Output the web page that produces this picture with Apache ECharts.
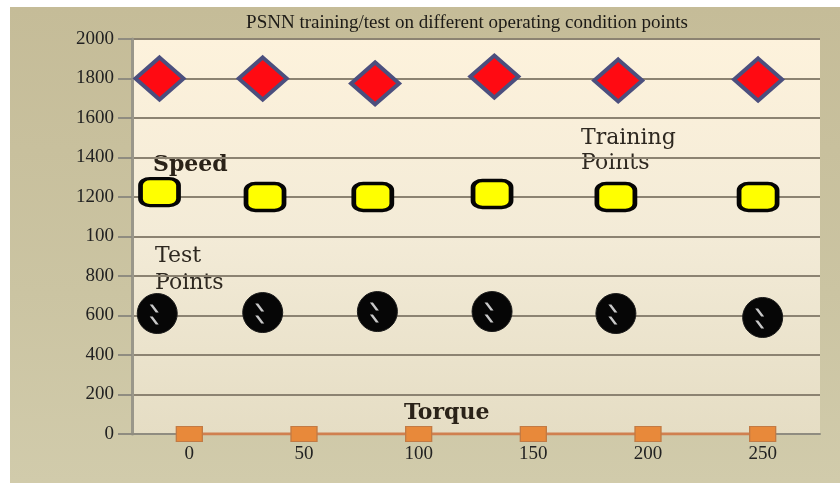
<!DOCTYPE html>
<html>
<head>
<meta charset="utf-8">
<script src="https://cdn.jsdelivr.net/npm/echarts@6/dist/echarts.min.js"></script>
<style>
  html, body { margin: 0; padding: 0; background: #fff; }
  #chart {
    width: 840px; height: 483px;
    background: #fff linear-gradient(180deg, #c5bc98 0%, #cbc4a2 60%, #d1cbab 100%) no-repeat 10px 7px / 830px 476px;
  }
</style>
</head>
<body>
<div id="chart"></div>
<script>
// category labels along the bottom axis
const torqueCategories = ['0', '50', '100', '150', '200', '250'];
const torqueValues = [0, 0, 0, 0, 0, 0];

// y tick labels as printed in the figure (the 1000 tick reads "100")
const yTickLabels = ['0', '200', '400', '600', '800', '100', '1200', '1400', '1600', '1800', '2000'];

// operating points, x on the hidden value axis
const speedHighX = [-13, 32, 81, 133, 187, 248];
const speedHighY = [1800, 1800, 1775, 1810, 1790, 1795];
const speedMidX = [-13, 33, 80, 132, 186, 248];
const speedMidY = [1225, 1200, 1200, 1215, 1200, 1200];
const speedLowX = [-14, 32, 82, 132, 186, 250];
const speedLowY = [610, 615, 620, 620, 610, 590];

const zip = (xs, ys) => xs.map((x, i) => [x, ys[i]]);

const serif = '"Liberation Serif", "Times New Roman", serif';
const slab = '"DejaVu Serif", serif';

const chart = echarts.init(document.getElementById('chart'));

chart.setOption({
  animation: false,
  grid: {
    left: 132, right: 20, top: 39, bottom: 49,
    show: true, borderWidth: 0,
    backgroundColor: new echarts.graphic.LinearGradient(0, 0, 0, 1, [
      { offset: 0, color: '#fdf2dc' },
      { offset: 0.5, color: '#f3ebd7' },
      { offset: 1, color: '#e5ddc4' },
    ]),
  },
  xAxis: [
    {
      type: 'category',
      data: torqueCategories,
      boundaryGap: true,
      axisLine: { lineStyle: { color: '#8f8c80', width: 2 } },
      axisTick: { length: 5, lineStyle: { color: '#8f8c80', width: 2 } },
      axisLabel: { color: '#222', fontFamily: serif, fontSize: 19, margin: 11 },
    },
    { type: 'value', min: -25, max: 275, show: false },
  ],
  yAxis: {
    type: 'value',
    min: 0, max: 2000, interval: 200,
    axisLine: { show: true, onZero: false, lineStyle: { color: '#9a978a', width: 3 } },
    axisTick: { show: true, length: 14, lineStyle: { color: '#8f8c80', width: 2 } },
    axisLabel: {
      color: '#222', fontFamily: serif, fontSize: 19, margin: 18,
      formatter: (v) => yTickLabels[Math.round(v / 200)],
    },
    splitLine: { lineStyle: { color: '#8c8372', width: 2 } },
  },
  graphic: [
    {
      type: 'text', x: 467, y: 23,
      style: { text: 'PSNN training/test on different operating condition points', font: '19px ' + serif, fill: '#1c1a16', align: 'center', verticalAlign: 'middle' },
    },
    {
      type: 'text', x: 153, y: 165,
      style: { text: 'Speed', font: 'bold 22px ' + slab, fill: '#2a2218', verticalAlign: 'middle' },
    },
    {
      type: 'text', x: 581, y: 151,
      style: { text: 'Training\nPoints', font: '22px ' + slab, lineHeight: 25, fill: '#2e2820', verticalAlign: 'middle' },
    },
    {
      type: 'text', x: 155, y: 270,
      style: { text: 'Test\nPoints', font: '22px ' + slab, lineHeight: 27, fill: '#2e2820', verticalAlign: 'middle' },
    },
    {
      type: 'text', x: 404, y: 413,
      style: { text: 'Torque', font: 'bold 22px ' + slab, fill: '#2a2218', verticalAlign: 'middle' },
    },
  ],
  series: [
    {
      type: 'line',
      data: torqueValues,
      symbol: 'rect',
      symbolSize: [26, 15],
      lineStyle: { color: '#d08050', width: 3 },
      itemStyle: { color: '#e8893a', borderColor: '#c27a44', borderWidth: 1, opacity: 1 },
      z: 3,
    },
    {
      type: 'scatter', xAxisIndex: 1,
      data: zip(speedHighX, speedHighY),
      symbol: 'diamond', symbolSize: [48, 42],
      itemStyle: { color: '#ff0a12', borderColor: '#4b4f7e', borderWidth: 4, opacity: 1 },
    },
    {
      type: 'scatter', xAxisIndex: 1,
      data: zip(speedMidX, speedMidY),
      symbol: 'roundRect', symbolSize: [38, 27],
      itemStyle: { color: '#ffff00', borderColor: '#050505', borderWidth: 4, opacity: 1 },
    },
    {
      type: 'scatter', xAxisIndex: 1,
      data: zip(speedLowX, speedLowY),
      symbol: 'circle', symbolSize: 40,
      itemStyle: { color: '#060606', borderColor: '#1a1a1a', borderWidth: 1, opacity: 1 },
    },
    {
      // glare marks on the black markers
      type: 'scatter', xAxisIndex: 1,
      data: zip(speedLowX, speedLowY),
      symbol: 'path://M0,0 L3,0 L9,8 L6,8 Z M0,12 L3,12 L9,20 L6,20 Z',
      symbolSize: [9, 20], symbolOffset: [-3, 1],
      itemStyle: { color: '#c8c8c8', opacity: 1 },
      silent: true, z: 3,
    },
  ],
});
</script>
</body>
</html>
